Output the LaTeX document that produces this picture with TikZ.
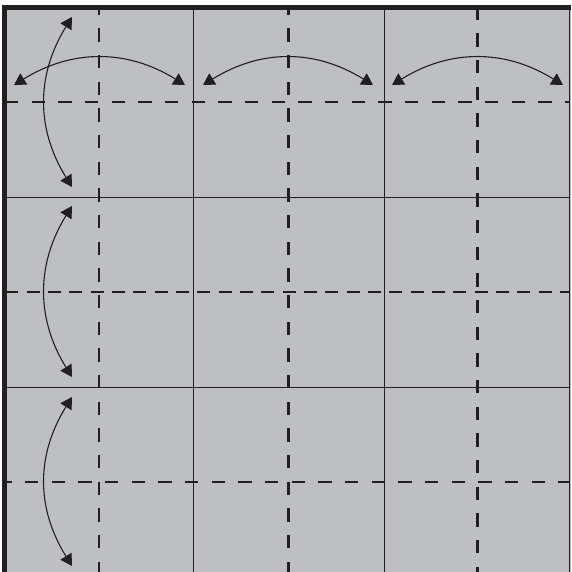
\documentclass[tikz,border=0pt]{standalone}
\usetikzlibrary{arrows.meta}
\definecolor{paper}{RGB}{190,191,194}
\definecolor{ink}{RGB}{35,31,32}
\tikzset{
  gridline/.style={draw=ink, line width=1pt},
  foldline/.style={draw=ink, line width=2.8pt, line cap=butt, dash pattern=on 13.33pt off 13.33pt},
  foldlinedense/.style={draw=ink, line width=2.8pt, line cap=butt, dash pattern=on 12.9pt off 8.43pt},
  edgeline/.style={draw=ink, line cap=butt},
  foldarrow/.style={draw=ink, line width=1.1pt,
    {Triangle[length=11.5pt,width=13pt]}-{Triangle[length=11.5pt,width=13pt]}}
}
\begin{document}
\begin{tikzpicture}[x=1pt,y=-1pt]
\useasboundingbox (0,0) rectangle (571,572);
% paper
\fill[paper] (2,5) rectangle (570.5,572);
% thin grid lines
\draw[gridline] (193.8,10) -- (193.8,572);
\draw[gridline] (384,10) -- (384,572);
\draw[gridline] (7,197) -- (569,197);
\draw[gridline] (7,387.3) -- (569,387.3);
% dashed fold lines
\draw[foldline] (5,102) -- (569,102);
\draw[foldlinedense] (5.4,292) -- (569,292);
\draw[foldline, dash phase=3.7pt] (2,482) -- (569,482);
\draw[foldline, dash phase=6.3pt] (99,8) -- (99,572);
\draw[foldline, dash phase=6.3pt] (288.5,8) -- (288.5,572);
\draw[foldline] (477.5,6.7) -- (477.5,572);
% edges
\draw[edgeline, line width=5pt] (4.5,5) -- (4.5,572);
\draw[edgeline, line width=5pt] (2,7.5) -- (571,7.5);
\draw[edgeline, line width=1.6pt] (569.5,5) -- (569.5,572);
% arrow end points
\coordinate (h1a) at (14,85);  \coordinate (h1b) at (185,85);
\coordinate (h2a) at (203,85); \coordinate (h2b) at (373,85);
\coordinate (h3a) at (392,85); \coordinate (h3b) at (563,85);
\coordinate (v1a) at (72,17);  \coordinate (v1b) at (72,187);
\coordinate (v2a) at (72,206); \coordinate (v2b) at (72,377);
\coordinate (v3a) at (72,397); \coordinate (v3b) at (72,566);
% arrows
\draw[foldarrow] (h1a) .. controls +(58,-36) and +(-58,-36) .. (h1b);
\draw[foldarrow] (h2a) .. controls +(58,-36) and +(-58,-36) .. (h2b);
\draw[foldarrow] (h3a) .. controls +(58,-36) and +(-58,-36) .. (h3b);
\draw[foldarrow] (v1a) .. controls +(-36,58) and +(-36,-58) .. (v1b);
\draw[foldarrow] (v2a) .. controls +(-36,58) and +(-36,-58) .. (v2b);
\draw[foldarrow] (v3a) .. controls +(-36,58) and +(-36,-58) .. (v3b);
\end{tikzpicture}
\end{document}
